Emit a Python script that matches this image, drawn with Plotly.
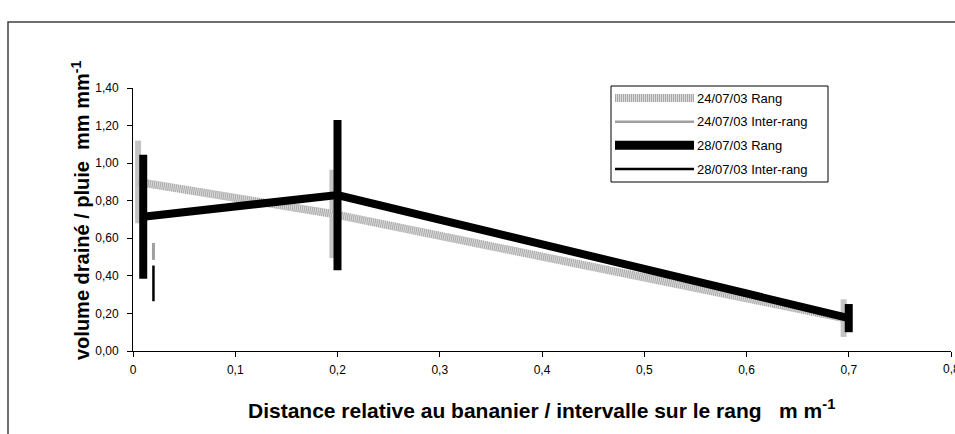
import plotly.graph_objects as go

# ---- data ----
x_rang_24 = [0.005, 0.195, 0.695]
y_rang_24 = [0.90, 0.73, 0.175]
e_rang_24 = [0.22, 0.235, 0.10]

x_inter_24 = [0.02]
y_inter_24 = [0.53]
e_inter_24 = [0.045]

x_rang_28 = [0.01, 0.2, 0.7]
y_rang_28 = [0.715, 0.83, 0.175]
e_rang_28 = [0.33, 0.40, 0.075]

x_inter_28 = [0.02]
y_inter_28 = [0.36]
e_inter_28 = [0.095]

legend_labels = ["24/07/03 Rang", "24/07/03 Inter-rang", "28/07/03 Rang", "28/07/03 Inter-rang"]
x_last_tick = 0.8
x_last_tick_label = "0,8"

FONT = "Arial, Liberation Sans, sans-serif"

fig = go.Figure()

# 24/07/03 Rang: hatched grey band (base + striped overlay)
fig.add_trace(go.Scatter(x=x_rang_24, y=y_rang_24, mode="lines",
                         line=dict(color="#dcdcdc", width=8),
                         error_y=dict(type="data", array=e_rang_24, visible=True,
                                      color="#c4c4c4", thickness=6, width=0),
                         showlegend=False, hoverinfo="skip"))
fig.add_trace(go.Scatter(x=x_rang_24, y=y_rang_24, mode="lines",
                         line=dict(color="#a8a8a8", width=8, dash="1px,1px"),
                         showlegend=False, hoverinfo="skip"))
# 24/07/03 Inter-rang
fig.add_trace(go.Scatter(x=x_inter_24, y=y_inter_24, mode="lines",
                         line=dict(color="#a0a0a0", width=2),
                         error_y=dict(type="data", array=e_inter_24, visible=True,
                                      color="#a0a0a0", thickness=3, width=0),
                         showlegend=False, hoverinfo="skip"))
# 28/07/03 Rang
fig.add_trace(go.Scatter(x=x_rang_28, y=y_rang_28, mode="lines",
                         line=dict(color="#000000", width=8),
                         error_y=dict(type="data", array=e_rang_28, visible=True,
                                      color="#000000", thickness=8, width=0),
                         showlegend=False, hoverinfo="skip"))
# 28/07/03 Inter-rang
fig.add_trace(go.Scatter(x=x_inter_28, y=y_inter_28, mode="lines",
                         line=dict(color="#000000", width=2),
                         error_y=dict(type="data", array=e_inter_28, visible=True,
                                      color="#000000", thickness=2.5, width=0),
                         showlegend=False, hoverinfo="skip"))

# pixel -> paper helpers (plot area: x 133..951, y 88..351)
L, R, T, B = 133, 951, 88, 351
def px(x):
    return (x - L) / (R - L)
def py(y):
    return (B - y) / (B - T)

shapes = []
annotations = []

# outer chart frame
shapes.append(dict(type="rect", xref="paper", yref="paper",
                   x0=px(8), x1=px(1000), y0=py(480), y1=py(22),
                   line=dict(color="#404040", width=1.5), fillcolor="rgba(0,0,0,0)", layer="below"))

# legend box
shapes.append(dict(type="rect", xref="paper", yref="paper",
                   x0=px(611), x1=px(828), y0=py(182), y1=py(86),
                   line=dict(color="#000000", width=1), fillcolor="white"))
ys = [98, 121.7, 145.3, 169]
styles = [
    [dict(color="#dcdcdc", width=8), dict(color="#a8a8a8", width=8, dash="1px,1px")],
    [dict(color="#a0a0a0", width=2.5)],
    [dict(color="#000000", width=9)],
    [dict(color="#000000", width=2.5)],
]
for yy, st, lab in zip(ys, styles, legend_labels):
    for s in st:
        shapes.append(dict(type="line", xref="paper", yref="paper",
                           x0=px(615), x1=px(694), y0=py(yy), y1=py(yy), line=s))
    annotations.append(dict(xref="paper", yref="paper", x=px(695), y=py(yy),
                            xanchor="left", yanchor="middle", showarrow=False,
                            text=lab, font=dict(family=FONT, size=13, color="black")))

# last x tick label (partly cut off at the page edge, as in the original)
annotations.append(dict(xref="x", yref="paper", x=x_last_tick, y=py(360),
                        xanchor="center", yanchor="top", showarrow=False,
                        text=x_last_tick_label, font=dict(family=FONT, size=12, color="black")))

# axis titles
annotations.append(dict(xref="paper", yref="paper", x=px(80), y=py(211),
                        xanchor="center", yanchor="middle", showarrow=False, textangle=-90,
                        text="<b>volume drainé / pluie\u00a0\u00a0mm mm<sup>-1</sup></b>",
                        font=dict(family=FONT, size=20, color="black")))
annotations.append(dict(xref="paper", yref="paper", x=px(541), y=py(409),
                        xanchor="center", yanchor="middle", showarrow=False,
                        text="<b>Distance relative au bananier / intervalle sur le rang\u00a0\u00a0\u00a0m m<sup>-1</sup></b>",
                        font=dict(family=FONT, size=21, color="black")))

fig.update_layout(
    width=955, height=434, autosize=False,
    margin=dict(l=L, r=955 - R, t=T, b=434 - B),
    paper_bgcolor="white", plot_bgcolor="white",
    separators=", ",
    showlegend=False,
    shapes=shapes, annotations=annotations,
    xaxis=dict(range=[0, 0.8], dtick=0.1, tick0=0, showgrid=False, zeroline=False,
               showline=True, linecolor="black", linewidth=1,
               ticks="outside", ticklen=5, tickcolor="black", ticklabelstandoff=3,
               tickfont=dict(family=FONT, size=12, color="black")),
    yaxis=dict(range=[0, 1.4], dtick=0.2, tick0=0, tickformat=".2f", showgrid=False, zeroline=False,
               showline=True, linecolor="black", linewidth=1,
               ticks="outside", ticklen=5, tickcolor="black", ticklabelstandoff=6,
               tickfont=dict(family=FONT, size=12, color="black")),
)

fig.write_html("out.html")
